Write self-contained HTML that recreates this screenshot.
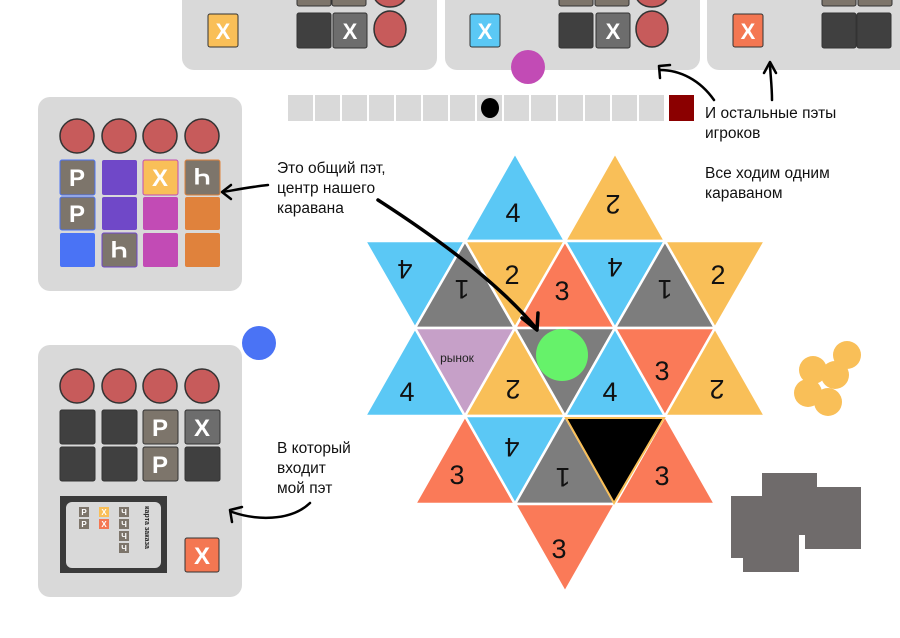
<!DOCTYPE html>
<html><head><meta charset="utf-8"><style>
html,body{margin:0;padding:0;background:#fff;}
svg{display:block;font-family:"Liberation Sans","DejaVu Sans",sans-serif;}
</style></head><body>
<svg width="900" height="638" viewBox="0 0 900 638" xmlns="http://www.w3.org/2000/svg">
<!-- top panels -->
<rect x="182" y="-20" width="255" height="90" rx="12" fill="#d9d9d9"/>
<rect x="445" y="-20" width="255" height="90" rx="12" fill="#d9d9d9"/>
<rect x="707" y="-20" width="210" height="90" rx="12" fill="#d9d9d9"/>
<g stroke="#333" stroke-width="1">
<rect x="297" y="-20" width="34" height="26" rx="2" fill="#7d756b"/><rect x="332" y="-20" width="34" height="26" rx="2" fill="#7d756b"/>
<rect x="559" y="-20" width="34" height="26" rx="2" fill="#7d756b"/><rect x="595" y="-20" width="34" height="26" rx="2" fill="#7d756b"/>
<rect x="822" y="-20" width="34" height="26" rx="2" fill="#7d756b"/><rect x="858" y="-20" width="34" height="26" rx="2" fill="#7d756b"/>
<rect x="208" y="14" width="30" height="33" rx="2" fill="#f9bf58"/>
<rect x="297" y="13" width="34" height="35" rx="2" fill="#404040"/>
<rect x="333" y="13" width="34" height="35" rx="2" fill="#6d6d6d"/>
<rect x="470" y="14" width="30" height="33" rx="2" fill="#5bc8f5"/>
<rect x="559" y="13" width="34" height="35" rx="2" fill="#404040"/>
<rect x="596" y="13" width="34" height="35" rx="2" fill="#6d6d6d"/>
<rect x="733" y="14" width="30" height="33" rx="2" fill="#f47752"/>
<rect x="822" y="13" width="34" height="35" rx="2" fill="#404040"/>
<rect x="857" y="13" width="34" height="35" rx="2" fill="#404040"/>
</g>
<g stroke="#333" stroke-width="1.5" fill="#c75b5b">
<ellipse cx="390" cy="29" rx="16" ry="18"/><ellipse cx="390" cy="-5" rx="16" ry="12"/>
<ellipse cx="652" cy="29" rx="16" ry="18"/><ellipse cx="652" cy="-5" rx="16" ry="12"/>
</g>
<g fill="#fff" font-weight="bold" font-size="22" text-anchor="middle">
<text x="223" y="39">X</text><text x="350" y="39">X</text><text x="485" y="39">X</text><text x="613" y="39">X</text><text x="748" y="39">X</text>
</g>
<circle cx="528" cy="67" r="17" fill="#c24bb5"/>
<!-- track -->
<g fill="#d9d9d9">
<rect x="288" y="95" width="25" height="26"/><rect x="315" y="95" width="25" height="26"/><rect x="342" y="95" width="25" height="26"/><rect x="369" y="95" width="25" height="26"/><rect x="396" y="95" width="25" height="26"/><rect x="423" y="95" width="25" height="26"/><rect x="450" y="95" width="25" height="26"/><rect x="477" y="95" width="25" height="26"/><rect x="504" y="95" width="25" height="26"/><rect x="531" y="95" width="25" height="26"/><rect x="558" y="95" width="25" height="26"/><rect x="585" y="95" width="25" height="26"/><rect x="612" y="95" width="25" height="26"/><rect x="639" y="95" width="25" height="26"/>
</g>
<rect x="669" y="95" width="25" height="26" fill="#8b0000"/>
<ellipse cx="490" cy="108" rx="9" ry="10" fill="#000"/>
<!-- left panels -->
<rect x="38" y="97" width="204" height="194" rx="12" fill="#d9d9d9"/>
<rect x="38" y="345" width="204" height="252" rx="12" fill="#d9d9d9"/>
<g stroke="#333" stroke-width="1.5" fill="#c75b5b">
<circle cx="77" cy="136" r="17"/><circle cx="119" cy="136" r="17"/><circle cx="160" cy="136" r="17"/><circle cx="202" cy="136" r="17"/>
<circle cx="77" cy="386" r="17"/><circle cx="119" cy="386" r="17"/><circle cx="160" cy="386" r="17"/><circle cx="202" cy="386" r="17"/>
</g>
<g>
<rect x="60" y="160" width="35" height="35" rx="2" fill="#7d756b" stroke="#4a73f5"/>
<rect x="60" y="197" width="35" height="33" rx="2" fill="#7d756b" stroke="#4a73f5"/>
<rect x="60" y="233" width="35" height="34" rx="2" fill="#4a73f5"/>
<rect x="102" y="160" width="35" height="35" rx="2" fill="#7048c8"/>
<rect x="102" y="197" width="35" height="33" rx="2" fill="#7048c8"/>
<rect x="102" y="233" width="35" height="34" rx="2" fill="#7d756b" stroke="#7048c8"/>
<rect x="143" y="160" width="35" height="35" rx="2" fill="#f9bf58" stroke="#c24bb5"/>
<rect x="143" y="197" width="35" height="33" rx="2" fill="#c24bb5"/>
<rect x="143" y="233" width="35" height="34" rx="2" fill="#c24bb5"/>
<rect x="185" y="160" width="35" height="35" rx="2" fill="#7d756b" stroke="#e0823c"/>
<rect x="185" y="197" width="35" height="33" rx="2" fill="#e0823c"/>
<rect x="185" y="233" width="35" height="34" rx="2" fill="#e0823c"/>
</g>
<g fill="#fff" font-weight="bold" font-size="24" text-anchor="middle">
<text x="77" y="186">P</text><text x="77" y="222">P</text><text x="160" y="186">X</text>
<text transform="translate(202,177) rotate(180)" y="9">Ч</text>
<text transform="translate(119,250) rotate(180)" y="9">Ч</text>
</g>
<g stroke="#333" stroke-width="1">
<rect x="60" y="410" width="35" height="34" rx="2" fill="#404040"/>
<rect x="60" y="447" width="35" height="34" rx="2" fill="#404040"/>
<rect x="102" y="410" width="35" height="34" rx="2" fill="#404040"/>
<rect x="102" y="447" width="35" height="34" rx="2" fill="#404040"/>
<rect x="143" y="410" width="35" height="34" rx="2" fill="#7d756b"/>
<rect x="143" y="447" width="35" height="34" rx="2" fill="#7d756b"/>
<rect x="185" y="410" width="35" height="34" rx="2" fill="#6d6d6d"/>
<rect x="185" y="447" width="35" height="34" rx="2" fill="#404040"/>
<rect x="185" y="538" width="34" height="34" rx="2" fill="#f47752"/>
</g>
<g fill="#fff" font-weight="bold" font-size="24" text-anchor="middle">
<text x="160" y="436">P</text><text x="160" y="473">P</text><text x="202" y="436">X</text><text x="202" y="564">X</text>
</g>
<rect x="60" y="496" width="107" height="77" fill="#3a3a3a"/>
<rect x="66" y="502" width="95" height="66" rx="6" fill="#d9d9d9"/>
<g font-size="8" font-weight="bold" fill="#fff" text-anchor="middle">
<rect x="79" y="507" width="10" height="10" fill="#7d756b"/><text x="84" y="515">P</text>
<rect x="79" y="519" width="10" height="10" fill="#7d756b"/><text x="84" y="527">P</text>
<rect x="99" y="507" width="10" height="10" fill="#f9bf58"/><text x="104" y="515">X</text>
<rect x="99" y="519" width="10" height="10" fill="#f47752"/><text x="104" y="527">X</text>
<rect x="119" y="507" width="10" height="10" fill="#7d756b"/><text x="124" y="515">Ч</text>
<rect x="119" y="519" width="10" height="10" fill="#7d756b"/><text x="124" y="527">Ч</text>
<rect x="119" y="531" width="10" height="10" fill="#7d756b"/><text x="124" y="539">Ч</text>
<rect x="119" y="543" width="10" height="10" fill="#7d756b"/><text x="124" y="551">Ч</text>
</g>
<text transform="translate(145,506) rotate(90)" font-size="7" font-weight="bold" fill="#222">карта заказа</text>
<circle cx="259" cy="343" r="17" fill="#4a73f5"/>
<!-- board -->
<g stroke="#fff" stroke-width="2.5" stroke-linejoin="round">
<polygon points="465,241 565,241 515,153" fill="#5bc8f5"/>
<polygon points="565,241 665,241 615,153" fill="#f9bf58"/>
<polygon points="365,241 465,241 415,328" fill="#5bc8f5"/>
<polygon points="415,328 515,328 465,241" fill="#7d7d7d"/>
<polygon points="465,241 565,241 515,328" fill="#f9bf58"/>
<polygon points="515,328 615,328 565,241" fill="#fa7a58"/>
<polygon points="565,241 665,241 615,328" fill="#5bc8f5"/>
<polygon points="615,328 715,328 665,241" fill="#7d7d7d"/>
<polygon points="665,241 765,241 715,328" fill="#f9bf58"/>
<polygon points="365,416 465,416 415,328" fill="#5bc8f5"/>
<polygon points="415,328 515,328 465,416" fill="#c6a0c8"/>
<polygon points="465,416 565,416 515,328" fill="#f9bf58"/>
<polygon points="515,328 615,328 565,416" fill="#7d7d7d"/>
<polygon points="565,416 665,416 615,328" fill="#5bc8f5"/>
<polygon points="615,328 715,328 665,416" fill="#fa7a58"/>
<polygon points="665,416 765,416 715,328" fill="#f9bf58"/>
<polygon points="415,504 515,504 465,416" fill="#fa7a58"/>
<polygon points="465,416 565,416 515,504" fill="#5bc8f5"/>
<polygon points="515,504 615,504 565,416" fill="#7d7d7d"/>
<polygon points="615,504 715,504 665,416" fill="#fa7a58"/>
<polygon points="515,504 615,504 565,592" fill="#fa7a58"/>
</g>
<polygon points="566,418 664,418 614,503" fill="#000" stroke="#f9bf58" stroke-width="2"/>
<circle cx="562" cy="355" r="26" fill="#66f26a"/>
<g font-size="27" fill="#111" text-anchor="middle">
<text x="513" y="222">4</text>
<text transform="translate(613,205) rotate(180)" y="10">2</text>
<text transform="translate(405,270) rotate(180)" y="10">4</text>
<text transform="translate(462,290) rotate(180)" y="10">1</text>
<text x="512" y="284">2</text>
<text x="562" y="300">3</text>
<text transform="translate(615,268) rotate(180)" y="10">4</text>
<text transform="translate(665,290) rotate(180)" y="10">1</text>
<text x="718" y="284">2</text>
<text x="407" y="401">4</text>
<text transform="translate(513,390) rotate(180)" y="10">2</text>
<text x="610" y="401">4</text>
<text x="662" y="380">3</text>
<text transform="translate(717,390) rotate(180)" y="10">2</text>
<text x="457" y="484">3</text>
<text transform="translate(512,448) rotate(180)" y="10">4</text>
<text transform="translate(563,478) rotate(180)" y="10">1</text>
<text x="662" y="485">3</text>
<text x="559" y="558">3</text>
</g>
<text x="457" y="362" font-size="12" fill="#222" text-anchor="middle">рынок</text>
<!-- coins -->
<g fill="#f9bf58">
<circle cx="847" cy="355" r="14"/><circle cx="813" cy="370" r="14"/><circle cx="835" cy="375" r="14"/><circle cx="808" cy="393" r="14"/><circle cx="828" cy="402" r="14"/>
</g>
<polygon points="762,473 817,473 817,487 861,487 861,549 805,549 805,535 799,535 799,572 743,572 743,558 731,558 731,496 762,496" fill="#6f6b6b"/>
<!-- texts -->
<g font-size="15.5" fill="#111">
<text x="277" y="173">Это общий пэт,</text>
<text x="277" y="193">центр нашего</text>
<text x="277" y="213">каравана</text>
<text x="277" y="453">В который</text>
<text x="277" y="473">входит</text>
<text x="277" y="493">мой пэт</text>
<text x="705" y="118">И остальные пэты</text>
<text x="705" y="138">игроков</text>
<text x="705" y="178">Все ходим одним</text>
<text x="705" y="198">караваном</text>
</g>
<!-- arrows -->
<g fill="none" stroke="#000" stroke-width="2.5" stroke-linecap="round" stroke-linejoin="round">
<path d="M378,200 C440,240 500,285 535,327" stroke-width="3.5"/>
<path d="M522,318 L537,330 L538,313" stroke-width="3.5"/>
<path d="M268,185 C250,187 235,190 223,192"/>
<path d="M231,185 L222,192 L231,199"/>
<path d="M310,503 C290,522 255,520 232,512"/>
<path d="M232,522 L230,510 L242,507"/>
<path d="M714,100 C700,80 680,70 660,70"/>
<path d="M660,78 L659,66 L670,65"/>
<path d="M772,100 C772,85 770,72 770,63"/>
<path d="M764,73 L770,62 L776,73"/>
</g>
</svg>
</body></html>
